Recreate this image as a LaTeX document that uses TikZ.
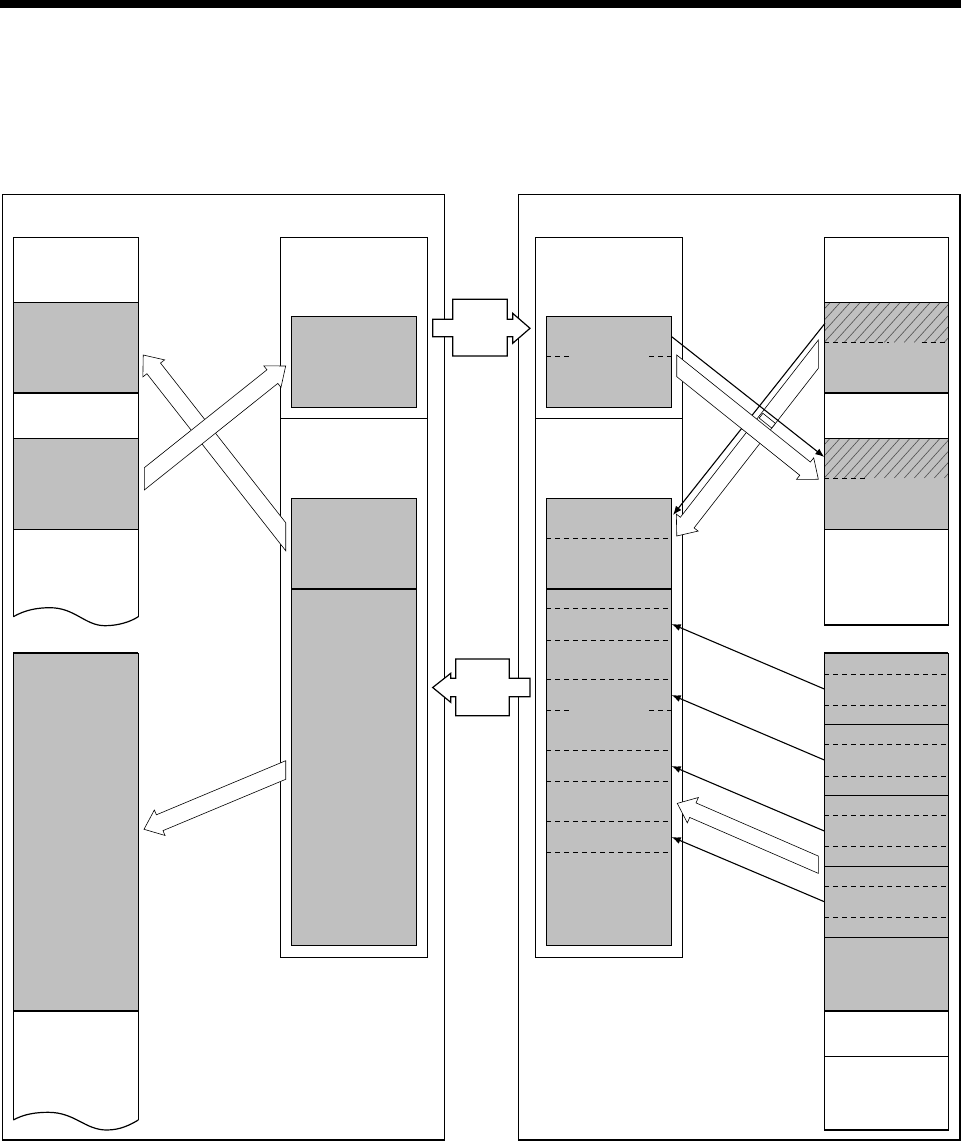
\documentclass[tikz,border=0pt]{standalone}
\usetikzlibrary{arrows.meta}
\definecolor{memgray}{HTML}{C0C0C0}
\definecolor{hatchc}{HTML}{505050}
\tikzset{
 frame/.style={draw=black, line width=1.2pt},
 dashln/.style={draw=black, line width=0.8pt, dash pattern=on 5pt off 4pt},
 fatarr/.style={draw=black, fill=white, line width=0.6pt, line join=miter},
 thinarr/.style={draw=black, line width=1.1pt, -{Latex[length=9pt,width=7pt]}},
 hatchln/.style={draw=hatchc, line width=0.6pt},
}
% #1 tail-mid x, #2 tail-mid y, #3 angle, #4 length, #5 shaft half width
\newcommand{\fatarrow}[5]{%
  \begin{scope}[shift={(#1,#2)}, rotate=#3]
   \draw[fatarr] ({#5*tan(#3)},{#5}) -- ({#4-17},{#5}) -- ({#4-17},13.8) -- ({#4},0)
     -- ({#4-17},-13.8) -- ({#4-17},{-#5}) -- ({-#5*tan(#3)},{-#5}) -- cycle;
  \end{scope}}
\begin{document}
\begin{tikzpicture}[x=1pt,y=1pt]
\useasboundingbox (0,0) rectangle (961,-1141);
\fill[black] (0,0) rectangle (961,-8);
% outer frames
\draw[frame] (2.7,-194.3) rectangle (444.3,-1140);
\draw[frame] (518.3,-194.3) rectangle (960,-1140);

% ---------- Column A (upper) ----------
\fill[memgray] (13.3,-302.3) rectangle (138.3,-393);
\fill[memgray] (13.3,-438.3) rectangle (138.3,-529.3);
\draw[frame] (13.3,-616.7) -- (13.3,-237.3) -- (138.3,-237.3) -- (138.3,-616.7);
\draw[frame] (13.3,-616.7) .. controls (25,-610) and (37,-607.7) .. (50,-607.7)
  .. controls (75,-607.7) and (85,-625.7) .. (105,-625.7)
  .. controls (118,-625.7) and (130,-622) .. (138.3,-616.7);
\foreach \y in {302.3,393,438.3,529.3} \draw[frame] (13.3,-\y) -- (138.3,-\y);

% ---------- Column A (lower) ----------
\fill[memgray] (13.3,-653.3) rectangle (138.3,-1011);
\draw[frame] (13.3,-1120) -- (13.3,-653.3) -- (138.3,-653.3) -- (138.3,-1120);
\draw[draw=black, line width=1.8pt] (13.3,-653.3) -- (138.3,-653.3);
\draw[frame] (13.3,-1120) .. controls (24,-1114) and (36,-1112.3) .. (48.3,-1112.3)
  .. controls (75,-1112.3) and (85,-1130) .. (106.7,-1130)
  .. controls (120,-1130) and (130,-1125) .. (138.3,-1120);
\draw[frame] (13.3,-1011) -- (138.3,-1011);

% ---------- Column B ----------
\draw[frame] (280.3,-237.3) rectangle (427.3,-957.3);
\draw[frame] (280.3,-418.3) -- (427.3,-418.3);
\draw[frame, fill=memgray] (291.3,-316.7) rectangle (416.7,-407.3);
\draw[frame, fill=memgray] (291.3,-498.3) rectangle (416.7,-945.7);
\draw[draw=black, line width=1.6pt] (291.3,-588.7) -- (416.7,-588.7);

% ---------- Column C ----------
\draw[frame] (535.3,-237.3) rectangle (682.3,-957.3);
\draw[frame] (535.3,-418.3) -- (682.3,-418.3);
\draw[frame, fill=memgray] (546.3,-316.7) rectangle (671.7,-407.3);
\draw[frame, fill=memgray] (546.3,-498.3) rectangle (671.7,-945.7);
\draw[draw=black, line width=1.6pt] (546.3,-588.7) -- (671.7,-588.7);
\foreach \y in {538.3,608.3,640.7,679.3,750.3,781.3,821.3,852.3}
  \draw[dashln] (546.3,-\y) -- (671.7,-\y);
\foreach \y in {356,710.3} {
  \draw[dashln] (546.3,-\y) -- (569,-\y);
  \draw[dashln] (649,-\y) -- (671.7,-\y);
}

% ---------- Column D (upper) ----------
\fill[memgray] (824.3,-302.3) rectangle (948.3,-393);
\fill[memgray] (824.3,-438.3) rectangle (948.3,-529.3);
\begin{scope}
  \clip (824.3,-302.3) rectangle (948.3,-342.3);
  \foreach \i in {-60,-50,...,130} \draw[hatchln] ({824.3+\i},-342.3) -- ++(48:70);
\end{scope}
\begin{scope}
  \clip (824.3,-438.3) rectangle (948.3,-478);
  \foreach \i in {-60,-50,...,130} \draw[hatchln] ({824.3+\i},-478) -- ++(48:70);
\end{scope}
\draw[frame] (824.3,-237.3) rectangle (948.3,-625);
\foreach \y in {302.3,393,438.3,529.3} \draw[frame] (824.3,-\y) -- (948.3,-\y);
\draw[dashln] (824.3,-342.3) -- (889,-342.3);
\draw[dashln] (921.7,-342.3) -- (948.3,-342.3);
\draw[dashln] (824.3,-478) -- (868,-478);

% ---------- Column D (lower) ----------
\fill[memgray] (824.3,-653.3) rectangle (948.3,-1011);
\draw[frame] (824.3,-653.3) rectangle (948.3,-1130);
\draw[draw=black, line width=1.8pt] (824.3,-653.3) -- (948.3,-653.3);
\foreach \y in {724.3,795.3,866.3,937.3,1011,1056.3} \draw[frame] (824.3,-\y) -- (948.3,-\y);
\foreach \y in {674.3,705.7,744.3,776.3,815.3,846.7,886.3,917.3}
  \draw[dashln] (824.3,-\y) -- (948.3,-\y);

% ---------- middle block arrows ----------
\draw[frame, fill=white, line join=miter] (432.7,-319.3) -- (452.7,-319.3) -- (452.7,-299.3) -- (507.3,-299.3)
  -- (507.3,-319.3) -- (512.7,-319.3) -- (512.7,-313.3) -- (530,-328.3) -- (512.7,-343.3)
  -- (512.7,-336.7) -- (507.3,-336.7) -- (507.3,-356) -- (452.7,-356) -- (452.7,-336.7)
  -- (432.7,-336.7) -- cycle;
\draw[frame, fill=white, line join=miter] (530,-678.3) -- (509.3,-678.3) -- (509.3,-659) -- (455.7,-659)
  -- (455.7,-678.3) -- (450.7,-678.3) -- (450.7,-673.3) -- (432.7,-687.5) -- (450.7,-702.3)
  -- (450.7,-696.7) -- (455.7,-696.7) -- (455.7,-715.7) -- (509.3,-715.7) -- (509.3,-696.7)
  -- (530,-696.7) -- cycle;

% ---------- left panel fat arrows ----------
\fatarrow{285.7}{-536.7}{128.1}{230.9}{8.64}
\fatarrow{144.3}{-478.85}{38.6}{180.9}{8.71}
\fatarrow{285.7}{-770}{202.7}{153.6}{8.58}

% ---------- right panel arrows ----------
\coordinate (ca) at (671.7,-336.7);
\coordinate (da) at (824.3,-457);
\coordinate (db) at (825,-323.3);
\coordinate (cb) at (673,-515);
\fatarrow{818.3}{-354.2}{232.1}{230.4}{8.69}
\draw[thinarr] (db) -- (cb);
\fatarrow{676.7}{-365.8}{-38.7}{181.5}{8.47}
\draw[thinarr] (ca) -- (da);
\draw[line width=0.6pt, fill=white, rotate around={-38.7:(767.3,-420.7)}] (759.3,-423.7) rectangle (775.3,-417.7);

\coordinate (d1) at (824.3,-689);   \coordinate (c1) at (671.7,-624);
\coordinate (d2) at (824.3,-760);   \coordinate (c2) at (671.7,-695);
\coordinate (d3) at (824.3,-831);   \coordinate (c3) at (671.7,-766);
\coordinate (d4) at (824.3,-901.7); \coordinate (c4) at (671.7,-837);
\draw[thinarr] (d1) -- (c1);
\draw[thinarr] (d2) -- (c2);
\draw[thinarr] (d3) -- (c3);
\draw[thinarr] (d4) -- (c4);
\fatarrow{818.3}{-864.7}{156.5}{153.8}{7.93}
\end{tikzpicture}
\end{document}
